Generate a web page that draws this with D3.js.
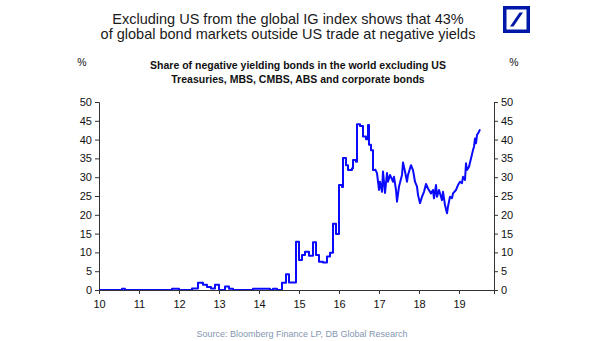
<!DOCTYPE html>
<html>
<head>
<meta charset="utf-8">
<script src="https://cdn.jsdelivr.net/npm/d3@7"></script>
<style>
  body { margin: 0; background: #fff; }
  svg { font-family: "Liberation Sans", Arial, sans-serif; }
</style>
</head>
<body>
<div id="chart"></div>
<script>
// share of negative yielding bonds, decimal year -> %
var dates = [2010.0, 2010.575, 2010.65, 2011.825, 2012.0, 2012.325, 2012.475, 2012.6, 2012.7, 2012.8,
  2012.9, 2013.0, 2013.15, 2013.25, 2013.35, 2013.85, 2014.275, 2014.35, 2014.45, 2014.575,
  2014.675, 2014.75, 2014.925, 2015.0, 2015.075, 2015.15, 2015.25, 2015.35, 2015.425, 2015.5,
  2015.6, 2015.7, 2015.775, 2015.85, 2015.925, 2016.0, 2016.075, 2016.1, 2016.175, 2016.225,
  2016.325, 2016.35, 2016.425, 2016.45, 2016.525, 2016.6, 2016.675, 2016.725, 2016.75, 2016.8,
  2016.85, 2016.9, 2016.95, 2017.0, 2017.025, 2017.075, 2017.1, 2017.15, 2017.2, 2017.225,
  2017.275, 2017.35, 2017.375, 2017.425, 2017.45, 2017.5, 2017.575, 2017.6, 2017.65, 2017.7,
  2017.725, 2017.8, 2017.85, 2017.9, 2017.95, 2017.975, 2018.025, 2018.075, 2018.125, 2018.175,
  2018.225, 2018.3, 2018.35, 2018.375, 2018.425, 2018.45, 2018.5, 2018.575, 2018.6, 2018.65,
  2018.7, 2018.725, 2018.775, 2018.825, 2018.85, 2018.925, 2018.975, 2019.025, 2019.075, 2019.1,
  2019.15, 2019.175, 2019.2, 2019.25, 2019.3, 2019.35, 2019.375, 2019.4, 2019.425, 2019.45,
  2019.5, 2019.525];
var values = [0, 0.3, 0, 0.3, 0, 0.4, 1.9, 1.4, 0.8, 0.4,
  1.4, 0, 0.9, 0.3, 0, 0.3, 0, 0.3, 0, 1.9,
  4.2, 2.0, 12.8, 8.0, 9.3, 10.2, 9.1, 12.7, 9.3, 7.5,
  7.3, 8.9, 9.9, 17.6, 14.9, 27.9, 27.4, 35.1, 33.2, 31.9,
  32.4, 34.6, 34.1, 44.1, 43.6, 40.8, 40.1, 43.9, 38.6, 37.2,
  31.9, 32.2, 31.1, 26.6, 28.8, 26.1, 31.5, 25.8, 31.1, 28.8,
  30.6, 28.8, 30.1, 26.6, 23.5, 27.5, 30.6, 33.9, 31.5, 28.8,
  30.6, 33.2, 31.9, 28.8, 27.5, 25.3, 23.1, 24.8, 26.1, 28.2,
  27.0, 25.7, 26.6, 24.4, 27.9, 24.8, 26.6, 23.9, 26.1, 22.6,
  20.4, 22.2, 24.8, 24.4, 25.7, 26.6, 27.9, 28.8, 28.4, 30.1,
  29.3, 33.7, 31.9, 32.8, 35.0, 37.2, 38.1, 40.3, 39.0, 41.2,
  42.1, 42.7];
var stepUntil = 2016.9; // monthly steps before this, daily noise after
var yearTicks = [2010, 2011, 2012, 2013, 2014, 2015, 2016, 2017, 2018, 2019];
var yTicks = [0, 5, 10, 15, 20, 25, 30, 35, 40, 45, 50];

var titleLines = ["Excluding US from the global IG index shows that 43%",
  "of global bond markets outside US trade at negative yields"];
var subLines = ["Share of negative yielding bonds in the world excluding US",
  "Treasuries, MBS, CMBS, ABS and corporate bonds"];
var source = "Source: Bloomberg Finance LP, DB Global Research";

var width = 605, height = 341;
var margin = {top: 102, right: 111, bottom: 51, left: 99};

var svg = d3.select('#chart').append('svg')
    .attr('width', width)
    .attr('height', height);

var x = d3.scaleLinear()
    .domain([2010, 2019.875])
    .range([margin.left, width - margin.right]);
var y = d3.scaleLinear()
    .domain([0, 50])
    .range([height - margin.bottom, margin.top]);

// titles
svg.append('g').selectAll('text')
    .data(titleLines)
    .enter().append('text')
    .attr('x', 288)
    .attr('y', function (d, i) { return 24 + i * 15; })
    .attr('text-anchor', 'middle')
    .style('font-size', '14.5px')
    .style('fill', '#1a1a1a')
    .text(function (d) { return d; });

svg.append('g').selectAll('text')
    .data(subLines)
    .enter().append('text')
    .attr('x', 298)
    .attr('y', function (d, i) { return 69 + i * 14; })
    .attr('text-anchor', 'middle')
    .style('font-size', '10.5px')
    .style('font-weight', 'bold')
    .style('fill', '#111')
    .text(function (d) { return d; });

svg.selectAll('text.pct')
    .data([82, 514])
    .enter().append('text')
    .attr('class', 'pct')
    .attr('x', function (d) { return d; })
    .attr('y', 66)
    .attr('text-anchor', 'middle')
    .style('font-size', '10.5px')
    .style('fill', '#111')
    .text('%');

// logo
var logo = svg.append('g').attr('transform', 'translate(503,6)');
logo.append('rect')
    .attr('x', 1.75).attr('y', 1.75)
    .attr('width', 23.5).attr('height', 23.5)
    .attr('fill', '#fff')
    .attr('stroke', '#0018a8')
    .attr('stroke-width', 3.5);
logo.append('path')
    .attr('d', 'M7,20.5 L16.5,6.5 L20,6.5 L10.5,20.5 Z')
    .attr('fill', '#0018a8');

// axes
function styleAxis(g) {
  g.selectAll('path, line').attr('stroke', '#333');
  g.selectAll('text').style('font-size', '11px').style('fill', '#111')
    .style('font-family', '"Liberation Sans", Arial, sans-serif');
}

svg.append('g')
    .attr('transform', 'translate(' + margin.left + ',0)')
    .call(d3.axisLeft(y).tickValues(yTicks).tickSizeOuter(0).tickSize(4).tickPadding(3))
    .call(styleAxis);

svg.append('g')
    .attr('transform', 'translate(' + (width - margin.right) + ',0)')
    .call(d3.axisRight(y).tickValues(yTicks).tickSizeOuter(0).tickSize(4).tickPadding(3))
    .call(styleAxis);

// line: stepped early part, plain line for the daily part
var points = d3.zip(dates, values);
var early = points.filter(function (d) { return d[0] <= stepUntil; });
var late = points.filter(function (d) { return d[0] >= stepUntil; });

var stepLine = d3.line()
    .x(function (d) { return x(d[0]); })
    .y(function (d) { return y(d[1]); })
    .curve(d3.curveStepAfter);
var plainLine = d3.line()
    .x(function (d) { return x(d[0]); })
    .y(function (d) { return y(d[1]); });

svg.selectAll('path.series')
    .data([stepLine(early), plainLine(late)])
    .enter().append('path')
    .attr('class', 'series')
    .attr('fill', 'none')
    .attr('stroke', '#0a0aff')
    .attr('stroke-width', 2)
    .attr('stroke-linejoin', 'round')
    .attr('d', function (d) { return d; });

svg.append('g')
    .attr('transform', 'translate(0,' + (height - margin.bottom) + ')')
    .call(d3.axisBottom(x).tickValues(yearTicks).tickSizeOuter(0).tickSize(4).tickPadding(6)
      .tickFormat(function (d) { return String(d).slice(2); }))
    .call(styleAxis);

svg.append('text')
    .attr('x', 302)
    .attr('y', 337)
    .attr('text-anchor', 'middle')
    .style('font-size', '9px')
    .style('fill', '#8496b0')
    .text(source);
</script>
</body>
</html>
